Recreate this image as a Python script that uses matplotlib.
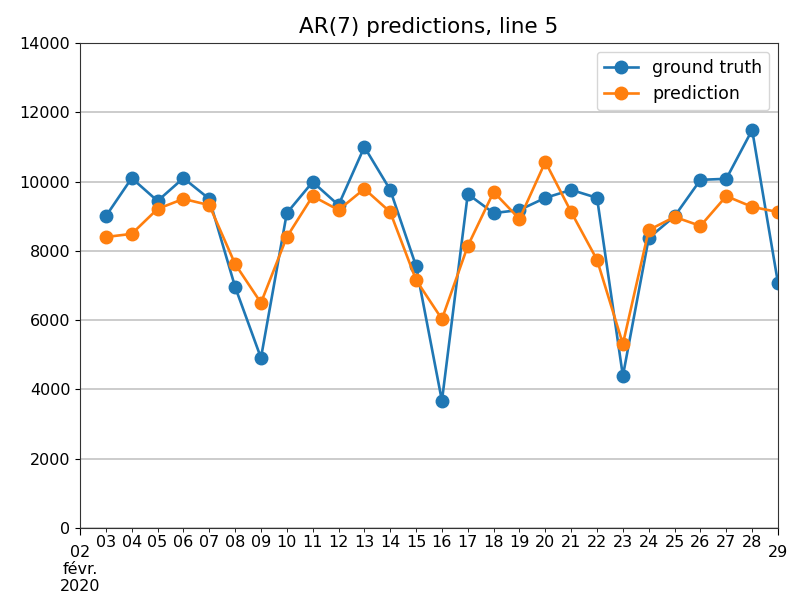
import matplotlib
matplotlib.use("Agg")
import matplotlib.pyplot as plt
import matplotlib.dates as mdates
import matplotlib.ticker as mticker
import numpy as np
import pandas as pd

dates = pd.date_range("2020-02-03", "2020-02-29", freq="D")
ground_truth = [9000, 10100, 9440, 10100, 9500, 6960, 4910, 9090, 9990, 9320,
                11000, 9760, 7560, 3670, 9640, 9090, 9180, 9530, 9760, 9530,
                4390, 8370, 9000, 10050, 10080, 11490, 7070]
prediction = [8400, 8490, 9210, 9500, 9320, 7620, 6500, 8400, 9580, 9180,
              9790, 9120, 7160, 6030, 8140, 9700, 8920, 10570, 9120, 7740,
              5310, 8600, 8980, 8720, 9580, 9270, 9120]

plt.rcParams["font.family"] = ["DejaVu Sans"]
fs = 11.5
fig = plt.figure(figsize=(7.89, 6.0), dpi=100)
ax = fig.add_axes([80/789, 1-528/600, (778-80)/789, (528-43)/600])
ax.plot(dates, ground_truth, marker="o", color="#1f77b4", lw=1.9, ms=9, label="ground truth")
ax.plot(dates, prediction, marker="o", color="#ff7f0e", lw=1.9, ms=9, label="prediction")

ax.set_xlim(pd.Timestamp("2020-02-02"), pd.Timestamp("2020-02-29"))
ax.set_ylim(0, 14000)
ax.set_yticks(np.arange(0, 14001, 2000))
ax.grid(axis="y", color="#c8c8c8", lw=1.3)
ax.set_axisbelow(True)
for s in ax.spines.values():
    s.set_color("#333333")

major = [pd.Timestamp("2020-02-02"), pd.Timestamp("2020-02-29")]
minor = list(pd.date_range("2020-02-03", "2020-02-28", freq="D"))
ax.xaxis.set_major_locator(mticker.FixedLocator(mdates.date2num(major)))
ax.xaxis.set_major_formatter(mticker.FixedFormatter(["02\nfévr.\n2020", "29"]))
ax.xaxis.set_minor_locator(mticker.FixedLocator(mdates.date2num(minor)))
ax.xaxis.set_minor_formatter(mticker.FixedFormatter([d.strftime("%d") for d in minor]))
ax.tick_params(axis="x", which="major", labelsize=fs, pad=7, length=5)
ax.tick_params(axis="x", which="minor", labelsize=fs, pad=2, length=3)
ax.tick_params(axis="y", labelsize=fs)
ax.set_title("AR(7) predictions, line 5", fontsize=15.5, pad=7)
ax.legend(loc="upper right", fontsize=12.5)
fig.savefig("out.png", dpi=100)
